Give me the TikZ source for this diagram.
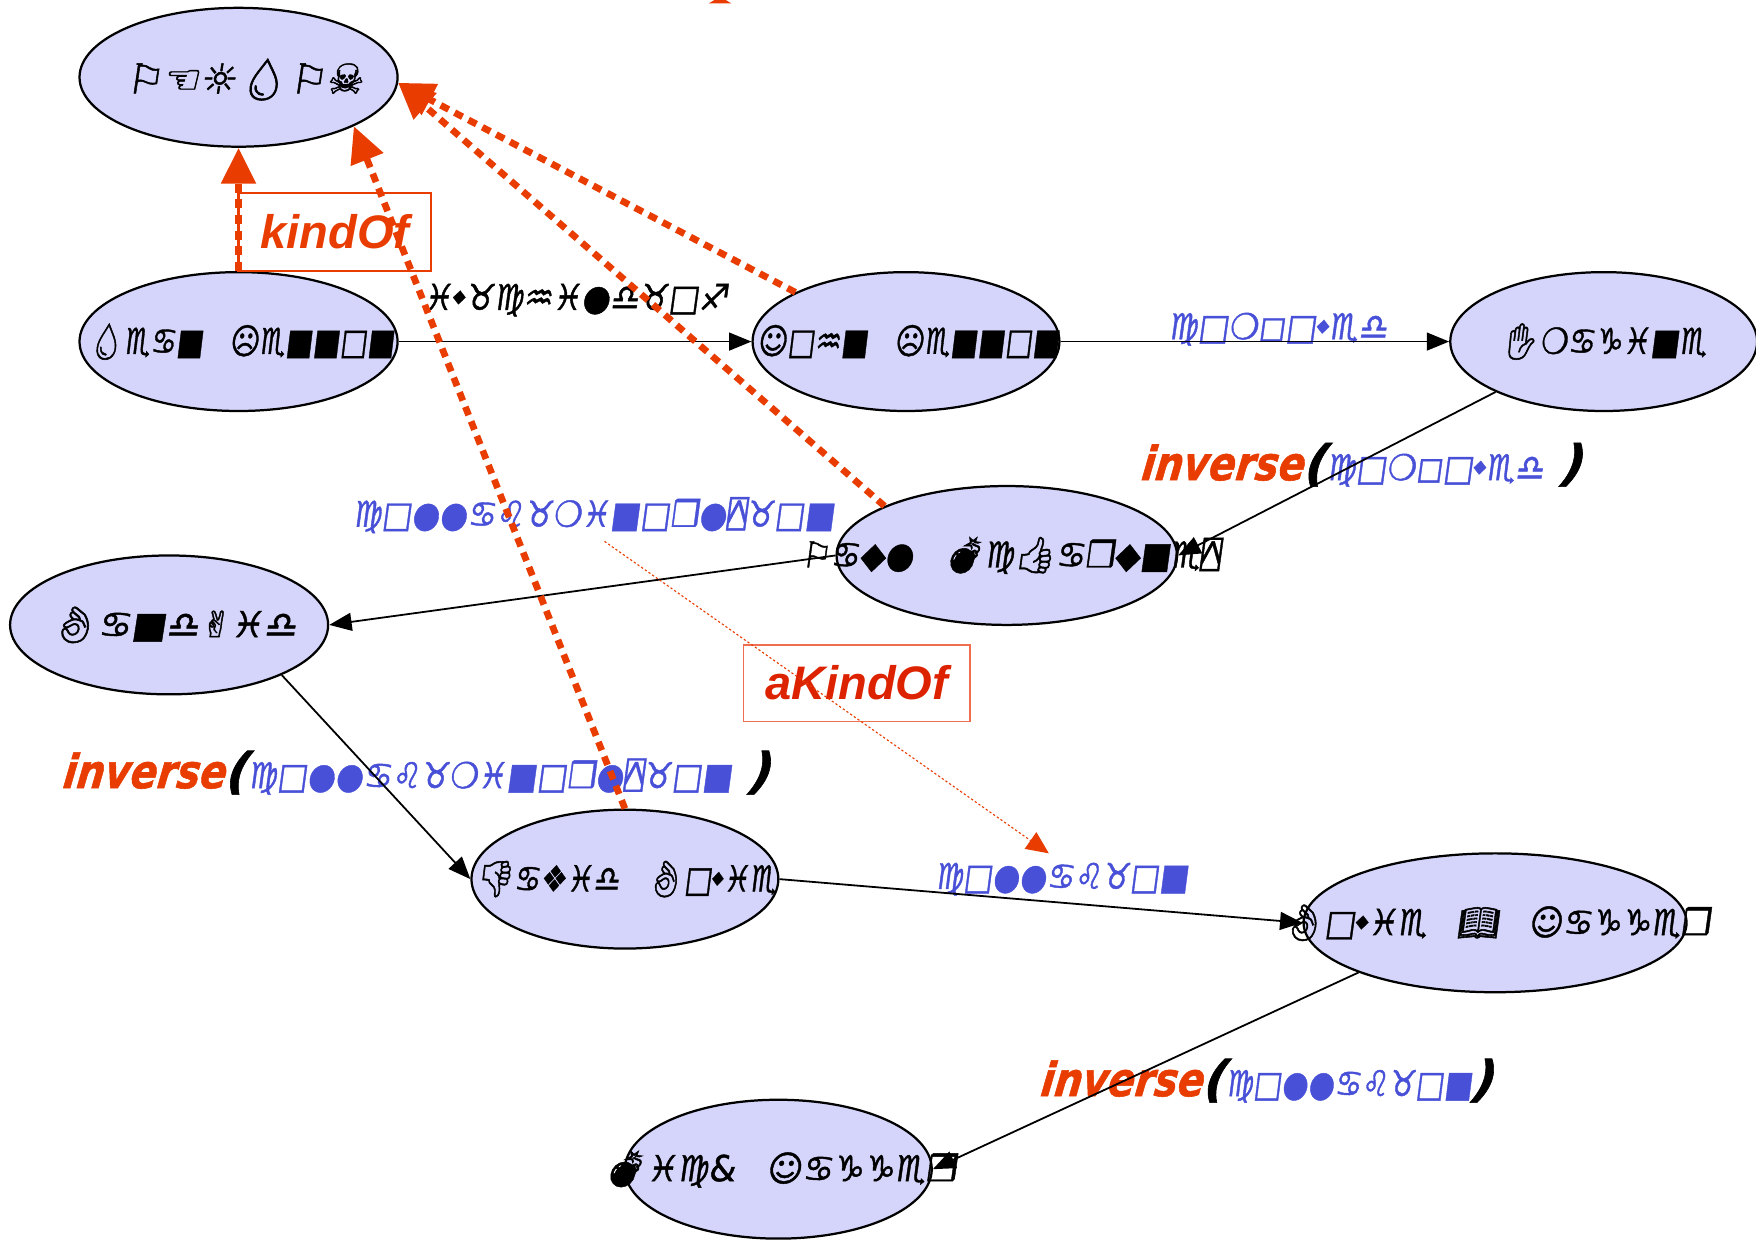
\documentclass[tikz,border=0pt]{standalone}
\usepackage{graphicx}
\usepackage{fontspec}
\usetikzlibrary{shapes.geometric,arrows.meta}
\setmainfont{Liberation Sans}
\newfontfamily\wgd[FakeSlant=0.15,FakeBold=1.2]{DejaVu Sans}
\newfontfamily\wgm[FakeSlant=0.15,FakeBold=1.2]{DejaVu Sans Mono}
\newfontfamily\emjf[FakeSlant=0.15,FakeBold=1.5]{Noto Emoji}
\definecolor{nodefill}{RGB}{213,213,251}
\definecolor{relblue}{RGB}{72,80,216}
\definecolor{kred}{RGB}{232,60,0}
\definecolor{akred}{RGB}{221,34,0}
\definecolor{akbox}{RGB}{240,110,80}
\newcommand\Em[1]{{\emjf#1}}
\newcommand\Yq{{\wgm ⍓}}
\newcommand\Sd{\raisebox{0.22em}{\scalebox{0.5}{◆}}}
\newcommand\Gp{\hspace{0.9em}}
\newcommand\Fit[2]{\resizebox{#1}{\height}{#2}}
\newcommand\wgfont{\wgd\fontsize{16}{16}\selectfont}
\newcommand\lblfont{\bfseries\itshape\fontsize{21}{21}\selectfont}
\newcommand\parfont{\bfseries\itshape\fontsize{22}{22}\selectfont}
\newcommand\Inv[3]{{\color{kred}\lblfont\Fit{73pt}{inverse}}{\parfont(}{\color{relblue}\wgfont\Fit{#1}{#2}}{\parfont #3)}}
\begin{document}
\begin{tikzpicture}[x=0.5pt,y=-0.5pt,
  ent/.style={ellipse, draw=black, line width=1pt, fill=nodefill, inner sep=0pt},
  etext/.style={inner sep=0pt, font=\wgfont, text=black},
  rlabel/.style={inner sep=0pt, font=\wgfont},
  rel/.style={draw=black, line width=0.8pt, -{Triangle[length=10pt,width=8pt]}},
  kind/.style={draw=kred, line width=3pt, dash pattern=on 4pt off 3pt, -{Triangle[length=16pt,width=15pt,fill=kred]}},
  akline/.style={draw=kred, line width=0.5pt, dash pattern=on 1pt off 1pt, -{Triangle[length=10pt,width=9pt,fill=kred]}},
]
\useasboundingbox (0,0) rectangle (1568,1107);
\fill[white] (0,0) rectangle (1568,1107);

% entity ellipses
\node[ent, minimum width=142pt, minimum height=62pt] (person) at (213,69) {};
\node[ent, minimum width=142pt, minimum height=62pt] (sean) at (213,305) {};
\node[ent, minimum width=137pt, minimum height=62pt] (john) at (809,305) {};
\node[ent, minimum width=137pt, minimum height=62pt] (imagine) at (1432,305) {};
\node[ent, minimum width=152pt, minimum height=62pt] (paul) at (899,496) {};
\node[ent, minimum width=142pt, minimum height=62pt] (bandaid) at (151,558) {};
\node[ent, minimum width=137pt, minimum height=62pt] (david) at (558,785) {};
\node[ent, minimum width=171pt, minimum height=62pt] (bj) at (1335,824) {};
\node[ent, minimum width=137pt, minimum height=62pt] (mick) at (695,1044) {};

% entity texts
\node[etext] (persont) at (218,71) {\resizebox{106pt}{!}{⚐☜☼\Em{💧}⚐☠}};
\node[etext] (seant) at (215,305) {\Fit{137pt}{\Em{💧}♏♋■\Gp☹♏■■□■}};
\node[etext] (johnt) at (811,305) {\Fit{135pt}{☺□♒■\Gp☹♏■■□■}};
\node[etext] (imaginet) at (1432,305) {\Fit{92pt}{\Em{✋}❍♋♑♓■♏}};
\node[etext] (pault) at (902,496) {\Fit{187pt}{⚐♋◆●\Gp\Em{💣}♍\Em{👍}♋❒◆■♏\Yq}};
\node[etext] (bandaidt) at (155,558) {\Fit{110pt}{\Em{👌}♋■♎✌♓♎}};
\node[etext] (davidt) at (559,785) {\Fit{134pt}{\Em{👎}♋❖♓♎\Gp\Em{👌}□\Sd♓♏}};
\node[etext] (bjt) at (1336,824) {\Fit{191pt}{\Em{👌}□\Sd♓♏\Gp\Em{📖}\Gp☺♋♑♑♏❒}};
\node[etext] (mickt) at (696,1044) {\Fit{158pt}{\Em{💣}♓♍\&\Gp☺♋♑♑♏❒}};

% relation labels
\node[rlabel, text=black] (ico) at (514,268) {\Fit{136pt}{♓\Sd♉♍♒♓●♎♉□♐}};
\node[rlabel, text=relblue] (comp) at (1141,294) {\Fit{98pt}{♍□❍◻□\Sd♏♎}};
\node[rlabel, anchor=west] (inv1) at (1018,415) {\Inv{97pt}{♍□❍◻□\Sd♏♎}{\ }};
\node[rlabel, text=relblue] (cmo) at (530,460) {\Fit{215pt}{♍□●●♋♌♉❍♓■□❒●\Yq♉□■}};
\node[rlabel, anchor=west] (inv2) at (55,690) {\Inv{216pt}{♍□●●♋♌♉❍♓■□❒●\Yq♉□■}{\ }};
\node[rlabel, text=relblue] (con) at (948,785) {\Fit{113pt}{♍□●●♋♌♉□■}};
\node[rlabel, anchor=west] (inv3) at (928,965) {\Inv{110pt}{♍□●●♋♌♉□■}{}};

% kind-of boxes
\node[draw=kred, line width=1pt, minimum width=86pt, minimum height=35pt, inner sep=0pt,
      text=kred, font=\lblfont] (kbox) at (299,207) {kindOf};
\node[draw=akbox, line width=0.6pt, minimum width=101pt, minimum height=34pt, inner sep=0pt,
      text=akred, font=\lblfont] (akbox) at (765,610) {aKindOf};

% black relation arrows
\draw[rel] (sean.east) -- (john.west);
\draw[rel] (john.east) -- (imagine.west);
\draw[rel] (imagine.205) -- (paul.east);
\draw[rel] (paul.west) -- (bandaid.east);
\draw[rel] (bandaid.-24) -- (david.west);
\draw[rel] (david.east) -- (bj.west);
\draw[rel] (bj.200) -- (mick.east);

% kind-of arrows
\draw[kind] (sean.north) -- (person.south);
\draw[kind] (david.north) -- (person.-23);
\draw[kind] (paul.158) -- (person.-2);
\draw[kind] (john.156) -- (person.-2);
\draw[akline, shorten <=6pt, shorten >=7pt] (cmo.south) -- (con.north);

% partial arrow tip at the top edge
\fill[kred] (633,3) -- (653,3) -- (648,0) -- (638,0) -- cycle;
\end{tikzpicture}
\end{document}
